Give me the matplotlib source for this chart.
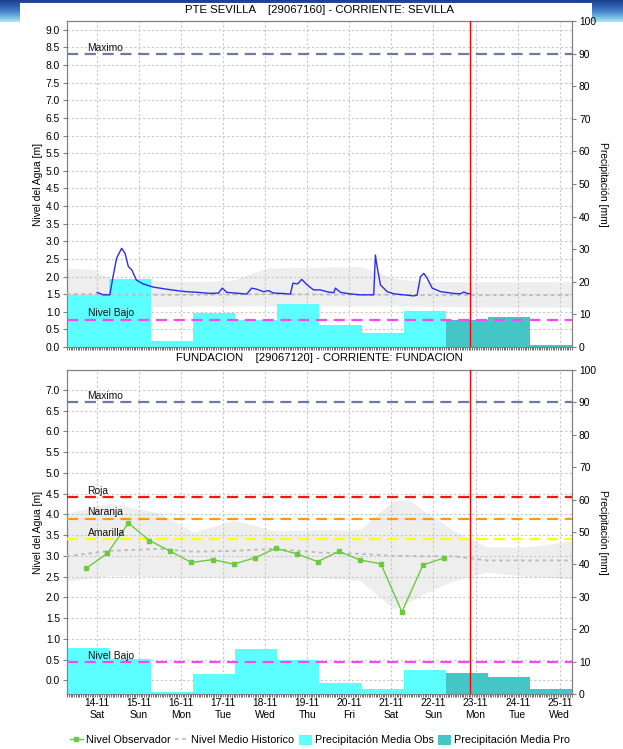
import numpy as np
import matplotlib
matplotlib.use("Agg")
import matplotlib.pyplot as plt
from matplotlib.colors import LinearSegmentedColormap
from matplotlib.lines import Line2D
from matplotlib.patches import Patch, Rectangle
from matplotlib.ticker import MultipleLocator, FormatStrFormatter

plt.rcParams["font.family"] = ["Liberation Sans", "DejaVu Sans"]

# ============================================================
# Data (x values are days of November 2020)
# ============================================================
DAYS = [14, 15, 16, 17, 18, 19, 20, 21, 22, 23, 24, 25]
DAY_NAMES = ["Sat", "Sun", "Mon", "Tue", "Wed", "Thu", "Fri", "Sat", "Sun", "Mon", "Tue", "Wed"]

# daily rain, pluviometric day 07:00 -> 07:00
RAIN_DAYS = [13, 14, 15, 16, 17, 18, 19, 20, 21, 22, 23, 24]
RAIN_HOUR = 7
N_OBS = 9  # the first 9 days are observed, the rest forecast
NOW = 22.875

# --- PTE SEVILLA ---
sev_rain = [15.9, 20.9, 1.9, 10.5, 8.2, 13.2, 6.6, 4.4, 11.0, 8.3, 9.3, 0.6]
sev_max = 8.3
sev_low = 0.78

sev_t = [14.01, 14.15, 14.31, 14.37, 14.47, 14.59, 14.67, 14.75, 14.83, 14.94,
         15.10, 15.34, 15.66, 15.90, 16.13, 16.40, 16.69, 16.89, 16.98, 17.09,
         17.40, 17.56, 17.68, 17.80, 17.96, 18.08, 18.20, 18.40, 18.60, 18.66,
         18.77, 18.87, 18.99, 19.15, 19.31, 19.50, 19.63, 19.67, 19.79, 20.00,
         20.26, 20.58, 20.62, 20.66, 20.74, 20.90, 21.06, 21.30, 21.53, 21.61,
         21.69, 21.77, 21.85, 21.97, 22.17, 22.48, 22.64, 22.72, 22.80, 22.88]
sev_level = [1.55, 1.48, 1.48, 1.90, 2.52, 2.80, 2.66, 2.28, 2.19, 1.90,
             1.79, 1.70, 1.64, 1.60, 1.57, 1.55, 1.52, 1.53, 1.67, 1.55,
             1.52, 1.50, 1.67, 1.64, 1.57, 1.60, 1.53, 1.52, 1.50, 1.81,
             1.79, 1.92, 1.77, 1.62, 1.62, 1.56, 1.54, 1.67, 1.55, 1.51,
             1.48, 1.48, 2.61, 2.28, 1.76, 1.57, 1.51, 1.48, 1.45, 1.47,
             1.99, 2.09, 1.95, 1.67, 1.57, 1.52, 1.51, 1.56, 1.52, 1.51]

sev_hist_t = [13.29, 13.91, 14.31, 15.10, 16.29, 17.25, 18.04, 19.20, 20.26, 21.05, 21.85, 23.00, 24.20, 25.30]
sev_hist_hi = [2.24, 2.20, 1.95, 1.88, 1.85, 1.90, 2.24, 2.26, 2.28, 1.95, 1.85, 1.85, 1.85, 1.85]
sev_hist_lo = [1.13, 1.14, 1.15, 1.15, 1.16, 1.16, 1.17, 1.17, 1.16, 1.17, 1.16, 1.13, 1.13, 1.13]
sev_hist_mean = [1.50, 1.50, 1.49, 1.48, 1.48, 1.49, 1.50, 1.49, 1.48, 1.48, 1.47, 1.47, 1.47, 1.47]

# --- FUNDACION ---
fun_rain = [14.3, 10.9, 0.5, 6.3, 14.0, 10.5, 3.5, 1.6, 7.4, 6.6, 5.4, 1.5]
fun_max = 6.71
fun_roja = 4.41
fun_naranja = 3.90
fun_amarilla = 3.41
fun_low = 0.43

fun_t = [13.75, 14.25, 14.75, 15.25, 15.75, 16.25, 16.75, 17.25, 17.75,
         18.25, 18.75, 19.25, 19.75, 20.25, 20.75, 21.25, 21.75, 22.25]
fun_level = [2.70, 3.06, 3.79, 3.37, 3.11, 2.84, 2.91, 2.80, 2.95,
             3.18, 3.05, 2.86, 3.11, 2.90, 2.81, 1.65, 2.78, 2.95]

fun_hist_t = [13.29, 14.31, 15.50, 16.29, 17.25, 18.20, 19.31, 20.26, 21.05, 21.45, 21.75, 22.48, 23.28, 24.23, 25.30]
fun_hist_hi = [4.03, 4.27, 4.03, 3.57, 3.86, 3.61, 3.63, 3.63, 4.34, 4.34, 4.10, 3.61, 3.21, 3.21, 3.37]
fun_hist_lo = [2.40, 2.52, 2.50, 2.48, 2.49, 2.48, 2.48, 2.40, 1.72, 1.90, 2.08, 2.40, 2.61, 2.50, 2.45]
fun_hist_mean = [2.99, 3.12, 3.17, 3.10, 3.12, 3.17, 3.08, 3.05, 3.00, 3.00, 2.99, 2.99, 2.89, 2.89, 2.89]

# ============================================================
# Styles
# ============================================================
C_OBS = "#5CFFFF"
C_PRO = "#45C6C6"
C_BAND = "#EEEEEE"
C_MEAN = "#BBBBBB"
C_GRID = "#C8C8C8"
C_SPINE = "#808080"
XLIM = (RAIN_DAYS[0] + RAIN_HOUR / 24, RAIN_DAYS[-1] + 1 + RAIN_HOUR / 24)
FS = 7.4

W, H = 623, 749
fig = plt.figure(figsize=(W / 100, H / 100), dpi=100)

# header decoration (blue page banner behind the chart)
bg = fig.add_axes([0, 0, 1, 1], zorder=-10)
bg.set_xlim(0, W)
bg.set_ylim(H, 0)
bg.axis("off")
banner = LinearSegmentedColormap.from_list("banner", ["#1d3f8f", "#3f7fc8", "#a8e4f4"])
bg.imshow(np.linspace(0, 1, 30)[:, None], extent=[0, W, 22, 0], cmap=banner, aspect="auto")
bg.add_patch(Rectangle((20, 3), 572, H, color="white", lw=0))


def make_panel(rect, ylim):
    ax = fig.add_axes(rect, zorder=0)
    axp = ax.twinx()
    axp.set_zorder(1)
    axl = fig.add_axes(rect, sharex=ax, sharey=ax, zorder=2)
    axl.patch.set_visible(False)
    axl.axis("off")

    ax.set_xlim(*XLIM)
    ax.set_ylim(*ylim)
    axp.set_ylim(0, 100)

    ax.set_xticks(DAYS)
    ax.xaxis.set_minor_locator(MultipleLocator(1 / 24))
    ax.yaxis.set_major_locator(MultipleLocator(0.5))
    ax.yaxis.set_major_formatter(FormatStrFormatter("%.1f"))
    axp.yaxis.set_major_locator(MultipleLocator(10))

    ax.grid(True, color=C_GRID, linestyle=(0, (2, 2)), linewidth=0.8)
    ax.tick_params(axis="y", labelsize=FS, length=3, color=C_SPINE, pad=2)
    ax.tick_params(axis="x", which="major", length=2, color=C_SPINE, labelsize=FS)
    ax.tick_params(axis="x", which="minor", length=2, width=0.6, color="#555555")
    axp.tick_params(axis="y", labelsize=FS, length=3, color=C_SPINE, pad=2)
    for a in (ax, axp):
        for s in a.spines.values():
            s.set_color(C_SPINE)
    return ax, axp, axl


def draw_rain(axp, rain):
    x = [d + RAIN_HOUR / 24 for d in RAIN_DAYS]
    colors = [C_OBS if i < N_OBS else C_PRO for i in range(len(rain))]
    axp.bar(x, rain, width=1.0, align="edge", color=colors, linewidth=0)


def hline(axl, y, color, label=None):
    axl.axhline(y, color=color, linestyle=(0, (5, 3)), linewidth=1.6)
    if label:
        axl.text(13.78, y + 0.03, label, fontsize=FS, va="bottom", ha="left", color="#111111")


# ------------------------------------------------------------
# Top panel: PTE SEVILLA
# ------------------------------------------------------------
ax1, axp1, axl1 = make_panel([67 / W, 1 - 347 / H, 505 / W, 326 / H], (0, 9.25))
ax1.fill_between(sev_hist_t, sev_hist_lo, sev_hist_hi, color=C_BAND, linewidth=0)
draw_rain(axp1, sev_rain)
axl1.plot(sev_hist_t, sev_hist_mean, color=C_MEAN, linestyle=(0, (2, 2)), linewidth=1.3)
hline(axl1, sev_max, "#6B7BA4", "Maximo")
hline(axl1, sev_low, "#FF44FF", "Nivel Bajo")
axl1.plot(sev_t, sev_level, color="#2B2BEE", linewidth=1.0)
axl1.axvline(NOW, color="red", linewidth=1.0)
ax1.tick_params(axis="x", labelbottom=False)

# ------------------------------------------------------------
# Bottom panel: FUNDACION
# ------------------------------------------------------------
ax2, axp2, axl2 = make_panel([67 / W, 1 - 694 / H, 505 / W, 324 / H], (-0.33, 7.48))
ax2.fill_between(fun_hist_t, fun_hist_lo, fun_hist_hi, color=C_BAND, linewidth=0)
draw_rain(axp2, fun_rain)
axl2.plot(fun_hist_t, fun_hist_mean, color=C_MEAN, linestyle=(0, (2, 2)), linewidth=1.3)
hline(axl2, fun_max, "#6B7BA4", "Maximo")
hline(axl2, fun_roja, "#FF1111", "Roja")
hline(axl2, fun_naranja, "#FF9911", "Naranja")
hline(axl2, fun_amarilla, "#FFFF00", "Amarilla")
hline(axl2, fun_low, "#FF44FF", "Nivel Bajo")
axl2.plot(fun_t, fun_level, color="#6CCB3C", linewidth=1.0, marker="s", markersize=2.8)
axl2.axvline(NOW, color="red", linewidth=1.0)
ax2.set_xticklabels([f"{d}-11\n{n}" for d, n in zip(DAYS, DAY_NAMES)], fontsize=FS, linespacing=1.2)
ax2.tick_params(axis="x", which="major", pad=1)

# ------------------------------------------------------------
# Titles, axis labels, legend
# ------------------------------------------------------------
fig.text(319.5 / W, 1 - 10 / H, "PTE SEVILLA    [29067160] - CORRIENTE: SEVILLA",
         ha="center", va="center", fontsize=8.2)
fig.text(319.5 / W, 1 - 358 / H, "FUNDACION    [29067120] - CORRIENTE: FUNDACION",
         ha="center", va="center", fontsize=8.2)
for yc in (184, 532):
    fig.text(38 / W, 1 - yc / H, "Nivel del Agua [m]", rotation=90, ha="center", va="center", fontsize=FS)
    fig.text(603 / W, 1 - yc / H, "Precipitación [mm]", rotation=-90, ha="center", va="center", fontsize=FS)

handles = [
    Line2D([], [], color="#6CCB3C", linewidth=1.0, marker="s", markersize=2.8),
    Line2D([], [], color=C_MEAN, linestyle=(0, (2, 2)), linewidth=1.3),
    Patch(facecolor=C_OBS, edgecolor="none"),
    Patch(facecolor=C_PRO, edgecolor="none"),
]
labels = ["Nivel Observador", "Nivel Medio Historico", "Precipitación Media Obs", "Precipitación Media Pro"]
fig.legend(handles, labels, loc="center", bbox_to_anchor=(320 / W, 1 - 740 / H), ncol=4,
           frameon=False, fontsize=7.8, handlelength=1.2, handletextpad=0.3, columnspacing=0.4,
           handleheight=1.1)

fig.savefig("out.png", dpi=100)
